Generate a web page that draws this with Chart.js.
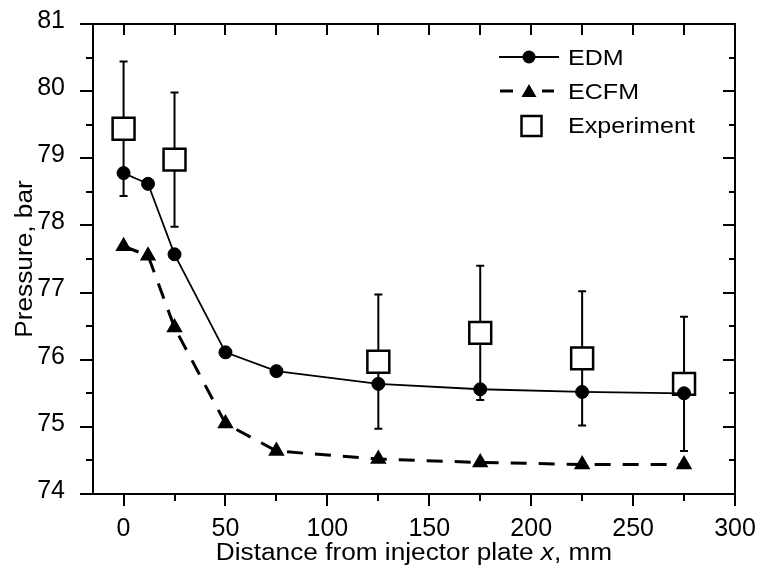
<!DOCTYPE html>
<html>
<head>
<meta charset="utf-8">
<script src="https://cdn.jsdelivr.net/npm/chart.js@4/dist/chart.umd.min.js"></script>
<style>
html, body { margin: 0; padding: 0; background: #fff; }
#wrap { width: 759px; height: 569px; }
</style>
</head>
<body>
<div id="wrap"><canvas id="c" width="759" height="569"></canvas></div>
<script>
// ---- data ----
const edmX = [0, 12, 25, 50, 75, 125, 175, 225, 275];
const edmY = [78.78, 78.62, 77.57, 76.11, 75.83, 75.64, 75.56, 75.52, 75.50];
const ecfmX = [0, 12, 25, 50, 75, 125, 175, 225, 275];
const ecfmY = [77.69, 77.55, 76.48, 75.05, 74.64, 74.52, 74.47, 74.44, 74.44];
const expX = [0, 25, 125, 175, 225, 275];
const expY = [79.44, 78.98, 75.97, 76.40, 76.02, 75.64];
const expErr = [1.0, 1.0, 1.0, 1.0, 1.0, 1.0];
const xTickValues = [0, 50, 100, 150, 200, 250, 300];
const yTickValues = [74, 75, 76, 77, 78, 79, 80, 81];
const seriesNames = ['EDM', 'ECFM', 'Experiment'];
const xTitleParts = ['Distance from injector plate ', 'x', ', mm'];
const yTitle = 'Pressure, bar';

const FAMILY = "'Liberation Sans', Arial, Helvetica, sans-serif";
const STRETCH = 1.14;

function pts(xs, ys) { return xs.map((x, i) => ({ x: x, y: ys[i] })); }

function stretchedText(ctx, text, x, y, align, size, style) {
  ctx.save();
  ctx.font = (style || '') + ' ' + size + 'px ' + FAMILY;
  ctx.translate(x, y);
  ctx.scale(STRETCH, 1);
  ctx.textAlign = align;
  ctx.textBaseline = 'alphabetic';
  ctx.fillStyle = '#000';
  ctx.fillText(text, 0, 0);
  ctx.restore();
}

function zeroPadding(s) {
  s.paddingLeft = 0; s.paddingRight = 0; s.paddingTop = 0; s.paddingBottom = 0;
}

const framePlugin = {
  id: 'frame',
  beforeDatasetsDraw(chart) {
    const ctx = chart.ctx;
    const a = chart.chartArea;
    const xs = chart.scales.x, ys = chart.scales.y;
    ctx.save();
    ctx.strokeStyle = '#000';
    ctx.lineWidth = 2;
    ctx.beginPath();
    for (let v = 0; v <= 300; v += 25) {
      const px = Math.round(xs.getPixelForValue(v));
      const major = (v % 50 === 0);
      ctx.moveTo(px, a.bottom);
      ctx.lineTo(px, a.bottom + (major ? 12 : 7));
      if (v < 300) {
        ctx.moveTo(px, a.top);
        ctx.lineTo(px, a.top + 11);
      }
    }
    for (let v = 74; v <= 81.001; v += 0.5) {
      const py = Math.round(ys.getPixelForValue(v));
      const major = Math.abs(v - Math.round(v)) < 1e-6;
      ctx.moveTo(a.left, py);
      ctx.lineTo(a.left - (major ? 13 : 7), py);
      ctx.moveTo(a.right, py);
      ctx.lineTo(a.right - (major ? 12 : 6), py);
    }
    ctx.stroke();
    ctx.strokeRect(a.left, a.top, a.right - a.left, a.bottom - a.top);

    // error bars of experiment
    ctx.lineWidth = 2;
    ctx.beginPath();
    for (let i = 0; i < expX.length; i++) {
      const px = xs.getPixelForValue(expX[i]);
      const top = ys.getPixelForValue(expY[i] + expErr[i]);
      const bot = ys.getPixelForValue(expY[i] - expErr[i]);
      ctx.moveTo(px, top); ctx.lineTo(px, bot);
      ctx.moveTo(px - 4, top); ctx.lineTo(px + 4, top);
      ctx.moveTo(px - 4, bot); ctx.lineTo(px + 4, bot);
    }
    ctx.stroke();
    ctx.restore();
  },
  afterDraw(chart) {
    const ctx = chart.ctx;
    const a = chart.chartArea;
    const size = 23;
    ctx.save();
    const fonts = ['', 'italic', ''];
    const widths = xTitleParts.map((t, i) => {
      ctx.font = fonts[i] + ' ' + size + 'px ' + FAMILY;
      return ctx.measureText(t).width * STRETCH;
    });
    const total = widths.reduce((s, w) => s + w, 0);
    let x = (a.left + a.right) / 2 - total / 2;
    xTitleParts.forEach((t, i) => {
      stretchedText(ctx, t, x, 560, 'left', size, fonts[i]);
      x += widths[i];
    });
    ctx.translate(31.5, (a.top + a.bottom) / 2);
    ctx.rotate(-Math.PI / 2);
    stretchedText(ctx, yTitle, 0, 0, 'center', size, '');
    ctx.restore();

    // legend
    ctx.save();
    ctx.strokeStyle = '#000';
    ctx.fillStyle = '#000';
    ctx.lineWidth = 2;
    ctx.beginPath(); ctx.moveTo(499, 57); ctx.lineTo(559, 57); ctx.stroke();
    ctx.beginPath(); ctx.arc(529, 57, 6.5, 0, Math.PI * 2); ctx.fill();
    stretchedText(ctx, seriesNames[0], 568, 65, 'left', 22, '');
    ctx.lineWidth = 3;
    ctx.beginPath(); ctx.moveTo(500, 91); ctx.lineTo(513, 91); ctx.moveTo(542, 91); ctx.lineTo(554, 91); ctx.stroke();
    ctx.beginPath();
    ctx.moveTo(529, 84); ctx.lineTo(536.5, 97); ctx.lineTo(521.5, 97); ctx.closePath(); ctx.fill();
    stretchedText(ctx, seriesNames[1], 568, 99, 'left', 22, '');
    ctx.lineWidth = 2.5;
    ctx.fillStyle = '#fff';
    ctx.fillRect(521.5, 116, 20, 20);
    ctx.strokeRect(521.5, 116, 20, 20);
    stretchedText(ctx, seriesNames[2], 568, 133, 'left', 22, '');
    ctx.restore();
  }
};

const tickFont = { family: FAMILY, size: 25 };

new Chart(document.getElementById('c'), {
  type: 'scatter',
  data: {
    datasets: [
      {
        label: seriesNames[0],
        data: pts(edmX, edmY),
        showLine: true,
        borderColor: '#000',
        backgroundColor: '#000',
        borderWidth: 1.8,
        pointStyle: 'circle',
        pointRadius: 6.5,
        pointBorderWidth: 1,
        tension: 0
      },
      {
        label: seriesNames[1],
        data: pts(ecfmX, ecfmY),
        showLine: true,
        borderColor: '#000',
        backgroundColor: '#000',
        borderWidth: 3,
        borderDash: [16, 12],
        pointStyle: 'triangle',
        pointRadius: 9.5,
        pointBorderWidth: 0,
        tension: 0
      },
      {
        label: seriesNames[2],
        data: pts(expX, expY),
        showLine: false,
        borderColor: '#000',
        backgroundColor: '#fff',
        pointStyle: 'rect',
        pointRadius: 15.5,
        pointBorderWidth: 2.5
      }
    ]
  },
  options: {
    responsive: false,
    animation: false,
    devicePixelRatio: 1,
    layout: { padding: { top: 24, right: 24, left: 0, bottom: 0 } },
    plugins: { legend: { display: false }, tooltip: { enabled: false } },
    scales: {
      x: {
        type: 'linear',
        min: -15,
        max: 300,
        afterBuildTicks: s => { s.ticks = xTickValues.map(v => ({ value: v })); },
        afterFit: s => { s.height = 75; zeroPadding(s); },
        grid: { display: false },
        border: { display: false },
        ticks: { padding: 12, color: '#000', font: tickFont, maxRotation: 0, autoSkip: false },
        title: { display: false }
      },
      y: {
        type: 'linear',
        min: 74,
        max: 81,
        afterBuildTicks: s => { s.ticks = yTickValues.map(v => ({ value: v })); },
        afterFit: s => { s.width = 93; zeroPadding(s); },
        grid: { display: false },
        border: { display: false },
        ticks: { padding: 20, labelOffset: -3, color: '#000', font: tickFont, autoSkip: false },
        title: { display: false }
      }
    }
  },
  plugins: [framePlugin]
});
</script>
</body>
</html>
